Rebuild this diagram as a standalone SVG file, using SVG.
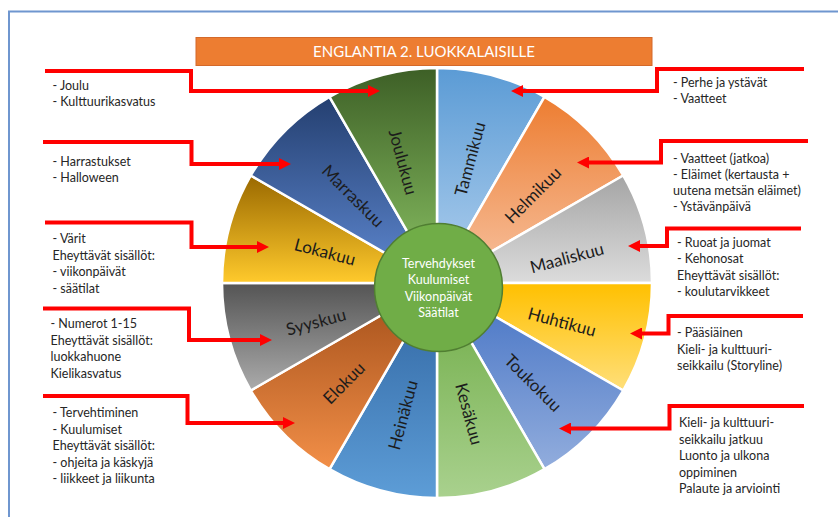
<svg xmlns="http://www.w3.org/2000/svg" width="838" height="517" viewBox="0 0 838 517">
  <style>
    .frame { fill: none; stroke: #6f96cf; stroke-width: 2; }
    .wedge { stroke: #ffffff; stroke-width: 2.5; stroke-linejoin: round; }
    .month { font-family: Lato, "Liberation Sans", sans-serif; font-size: 17px; fill: #1c1c1c; text-anchor: middle; }
    .note { font-family: Lato, "Liberation Sans", sans-serif; font-size: 12.5px; fill: #262626; }
    .hubtext { font-family: Lato, "Liberation Sans", sans-serif; font-size: 12.5px; fill: #ffffff; text-anchor: middle; }
    .title { font-family: Lato, "Liberation Sans", sans-serif; font-size: 15px; fill: #ffffff; text-anchor: middle; }
    .link { fill: none; stroke: #ff0000; stroke-width: 4; stroke-linejoin: miter; marker-end: url(#arrow); }
  </style>
  <defs>
    <marker id="arrow" markerUnits="userSpaceOnUse" markerWidth="12" markerHeight="12" refX="2" refY="6" orient="auto">
      <path d="M0,0 L12,6 L0,12 Z" fill="#ff0000"/>
    </marker>
    <linearGradient id="gJan" x1="0" y1="0" x2="0" y2="1"><stop offset="0" stop-color="#5b9bd5"/><stop offset="1" stop-color="#b1d0ee"/></linearGradient>
    <linearGradient id="gFeb" x1="0" y1="0" x2="0" y2="1"><stop offset="0" stop-color="#ed7d31"/><stop offset="1" stop-color="#f7c3a2"/></linearGradient>
    <linearGradient id="gMar" x1="0" y1="0" x2="0" y2="1"><stop offset="0" stop-color="#a5a5a5"/><stop offset="1" stop-color="#dcdcdc"/></linearGradient>
    <linearGradient id="gApr" x1="0" y1="0" x2="0" y2="1"><stop offset="0" stop-color="#ffc000"/><stop offset="1" stop-color="#ffdf7a"/></linearGradient>
    <linearGradient id="gMay" x1="0" y1="0" x2="0" y2="1"><stop offset="0" stop-color="#4472c4"/><stop offset="1" stop-color="#92addd"/></linearGradient>
    <linearGradient id="gJun" x1="0" y1="0" x2="0" y2="1"><stop offset="0" stop-color="#6eab45"/><stop offset="1" stop-color="#a9d18e"/></linearGradient>
    <linearGradient id="gJul" x1="0" y1="0" x2="0" y2="1"><stop offset="0" stop-color="#2f64a0"/><stop offset="1" stop-color="#5d9dd7"/></linearGradient>
    <linearGradient id="gAug" x1="0" y1="0" x2="0" y2="1"><stop offset="0" stop-color="#a14d18"/><stop offset="1" stop-color="#f28f48"/></linearGradient>
    <linearGradient id="gSep" x1="0" y1="0" x2="0" y2="1"><stop offset="0" stop-color="#545454"/><stop offset="1" stop-color="#ababab"/></linearGradient>
    <linearGradient id="gOct" x1="0" y1="0" x2="0" y2="1"><stop offset="0" stop-color="#9a6900"/><stop offset="1" stop-color="#ffca2c"/></linearGradient>
    <linearGradient id="gNov" x1="0" y1="0" x2="0" y2="1"><stop offset="0" stop-color="#243f70"/><stop offset="1" stop-color="#5f89d2"/></linearGradient>
    <linearGradient id="gDec" x1="0" y1="0" x2="0" y2="1"><stop offset="0" stop-color="#3d5f26"/><stop offset="1" stop-color="#8cc465"/></linearGradient>
  </defs>

  <rect width="838" height="517" fill="#ffffff"/>
  <!-- page frame -->
  <path class="frame" d="M9,517 V11.5 H838"/>

  <!-- heading bar -->
  <g id="title">
    <rect x="196" y="37.5" width="456" height="28" fill="#ed7d31" stroke="#d4692a" stroke-width="1"/>
    <text class="title" x="424" y="57">ENGLANTIA 2. LUOKKALAISILLE</text>
  </g>

  <!-- year wheel: twelve 30° sectors around (437,283), r = 215 -->
  <g id="wheel">
    <g id="tammikuu">
      <path class="wedge" fill="url(#gJan)" d="M437,283 L437,68 A215,215 0 0 1 544.5,96.8 Z"/>
      <text class="month" transform="translate(470,159) rotate(-75)" dy="0.35em">Tammikuu</text>
    </g>
    <g id="helmikuu">
      <path class="wedge" fill="url(#gFeb)" d="M437,283 L544.5,96.8 A215,215 0 0 1 623.2,175.5 Z"/>
      <text class="month" transform="translate(533,195) rotate(-45)" dy="0.35em">Helmikuu</text>
    </g>
    <g id="maaliskuu">
      <path class="wedge" fill="url(#gMar)" d="M437,283 L623.2,175.5 A215,215 0 0 1 652,283 Z"/>
      <text class="month" transform="translate(567,258) rotate(-15)" dy="0.35em">Maaliskuu</text>
    </g>
    <g id="huhtikuu">
      <path class="wedge" fill="url(#gApr)" d="M437,283 L652,283 A215,215 0 0 1 623.2,390.5 Z"/>
      <text class="month" transform="translate(562,322) rotate(15)" dy="0.35em">Huhtikuu</text>
    </g>
    <g id="toukokuu">
      <path class="wedge" fill="url(#gMay)" d="M437,283 L623.2,390.5 A215,215 0 0 1 544.5,469.2 Z"/>
      <text class="month" transform="translate(533,383) rotate(45)" dy="0.35em">Toukokuu</text>
    </g>
    <g id="kesakuu">
      <path class="wedge" fill="url(#gJun)" d="M437,283 L544.5,469.2 A215,215 0 0 1 437,498 Z"/>
      <text class="month" transform="translate(469,414) rotate(75)" dy="0.35em">Kesäkuu</text>
    </g>
    <g id="heinakuu">
      <path class="wedge" fill="url(#gJul)" d="M437,283 L437,498 A215,215 0 0 1 329.5,469.2 Z"/>
      <text class="month" transform="translate(403,415) rotate(-75)" dy="0.35em">Heinäkuu</text>
    </g>
    <g id="elokuu">
      <path class="wedge" fill="url(#gAug)" d="M437,283 L329.5,469.2 A215,215 0 0 1 250.8,390.5 Z"/>
      <text class="month" transform="translate(344,383) rotate(-45)" dy="0.35em">Elokuu</text>
    </g>
    <g id="syyskuu">
      <path class="wedge" fill="url(#gSep)" d="M437,283 L250.8,390.5 A215,215 0 0 1 222,283 Z"/>
      <text class="month" transform="translate(316,322) rotate(-15)" dy="0.35em">Syyskuu</text>
    </g>
    <g id="lokakuu">
      <path class="wedge" fill="url(#gOct)" d="M437,283 L222,283 A215,215 0 0 1 250.8,175.5 Z"/>
      <text class="month" transform="translate(325,252) rotate(15)" dy="0.35em">Lokakuu</text>
    </g>
    <g id="marraskuu">
      <path class="wedge" fill="url(#gNov)" d="M437,283 L250.8,175.5 A215,215 0 0 1 329.5,96.8 Z"/>
      <text class="month" transform="translate(353,196) rotate(45)" dy="0.35em">Marraskuu</text>
    </g>
    <g id="joulukuu">
      <path class="wedge" fill="url(#gDec)" d="M437,283 L329.5,96.8 A215,215 0 0 1 437,68 Z"/>
      <text class="month" transform="translate(403,162) rotate(75)" dy="0.35em">Joulukuu</text>
    </g>
  </g>

  <!-- hub -->
  <g id="hub">
    <circle cx="438.5" cy="287.5" r="64" fill="#70ad47" stroke="#507e32" stroke-width="1.5"/>
    <text class="hubtext" x="438.5" y="268">Tervehdykset<tspan x="438.5" dy="16.4">Kuulumiset</tspan><tspan x="438.5" dy="16.4">Viikonpäivät</tspan><tspan x="438.5" dy="16.4">Säätilat</tspan></text>
  </g>

  <!-- topic notes, left column -->
  <g id="note-dec">
    <text class="note" x="52.5" y="90">- Joulu<tspan x="52.5" dy="16">- Kulttuurikasvatus</tspan></text>
  </g>
  <g id="note-nov">
    <text class="note" x="52.5" y="166">- Harrastukset<tspan x="52.5" dy="16.3">- Halloween</tspan></text>
  </g>
  <g id="note-oct">
    <text class="note" x="52.5" y="243">- Värit<tspan x="52.5" dy="16.5">Eheyttävät sisällöt:</tspan><tspan x="52.5" dy="16.5">- viikonpäivät</tspan><tspan x="52.5" dy="16.5">- säätilat</tspan></text>
  </g>
  <g id="note-sep">
    <text class="note" x="50.5" y="328">- Numerot 1-15<tspan x="50.5" dy="16.5">Eheyttävät sisällöt:</tspan><tspan x="50.5" dy="16.5">luokkahuone</tspan><tspan x="50.5" dy="16.5">Kielikasvatus</tspan></text>
  </g>
  <g id="note-aug">
    <text class="note" x="52.5" y="417">- Tervehtiminen<tspan x="52.5" dy="16.5">- Kuulumiset</tspan><tspan x="52.5" dy="16.5">Eheyttävät sisällöt:</tspan><tspan x="52.5" dy="16.5">- ohjeita ja käskyjä</tspan><tspan x="52.5" dy="16.5">- liikkeet ja liikunta</tspan></text>
  </g>

  <!-- topic notes, right column -->
  <g id="note-jan">
    <text class="note" x="673" y="87">- Perhe ja ystävät<tspan x="673" dy="16">- Vaatteet</tspan></text>
  </g>
  <g id="note-feb">
    <text class="note" x="673" y="162.5">- Vaatteet (jatkoa)<tspan x="673" dy="16.3">- Eläimet (kertausta +</tspan><tspan x="673" dy="16.3">uutena metsän eläimet)</tspan><tspan x="673" dy="16.3">- Ystävänpäivä</tspan></text>
  </g>
  <g id="note-mar">
    <text class="note" x="677" y="247">- Ruoat ja juomat<tspan x="677" dy="16.3">- Kehonosat</tspan><tspan x="677" dy="16.3">Eheyttävät sisällöt:</tspan><tspan x="677" dy="16.3">- koulutarvikkeet</tspan></text>
  </g>
  <g id="note-apr">
    <text class="note" x="677" y="337">- Pääsiäinen<tspan x="677" dy="16.6">Kieli- ja kulttuuri-</tspan><tspan x="677" dy="16.6">seikkailu (Storyline)</tspan></text>
  </g>
  <g id="note-may">
    <text class="note" x="679" y="427">Kieli- ja kulttuuri-<tspan x="679" dy="16.5">seikkailu jatkuu</tspan><tspan x="679" dy="16.5">Luonto ja ulkona</tspan><tspan x="679" dy="16.5">oppiminen</tspan><tspan x="679" dy="16.5">Palaute ja arviointi</tspan></text>
  </g>

  <!-- elbow connectors from notes to months -->
  <g id="connectors">
    <path class="link" d="M45,71 H191 V91 H370"/>
    <path class="link" d="M43,142 H191.5 V164 H281"/>
    <path class="link" d="M45,222.5 H191.5 V247 H259"/>
    <path class="link" d="M43,308.5 H189 V340 H262"/>
    <path class="link" d="M43,396 H187.5 V423 H285"/>
    <path class="link" d="M804,69 H657 V91 H521"/>
    <path class="link" d="M808,141 H661 V162.5 H587"/>
    <path class="link" d="M801,228.5 H667 V246 H638"/>
    <path class="link" d="M803,316 H668.5 V333.5 H640"/>
    <path class="link" d="M804,406 H669.5 V428.5 H569"/>
  </g>
</svg>
